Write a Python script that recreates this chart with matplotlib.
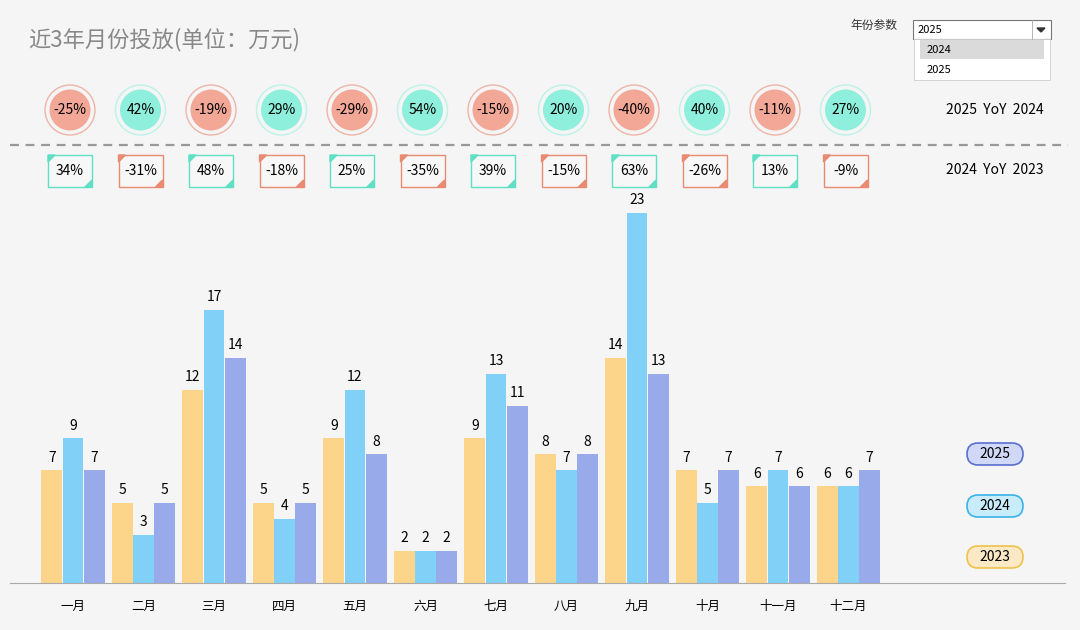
import matplotlib.pyplot as plt
from matplotlib.patches import Circle, Rectangle, Polygon, FancyBboxPatch
import numpy as np

plt.rcParams['font.family'] = ['Noto Sans CJK SC', 'DejaVu Sans']

months = ['一月', '二月', '三月', '四月', '五月', '六月', '七月', '八月', '九月', '十月', '十一月', '十二月']
v2023 = [7, 5, 12, 5, 9, 2, 9, 8, 14, 7, 6, 6]
v2024 = [9, 3, 17, 4, 12, 2, 13, 7, 23, 5, 7, 6]
v2025 = [7, 5, 14, 5, 8, 2, 11, 8, 13, 7, 6, 7]
yoy_25_24 = [-25, 42, -19, 29, -29, 54, -15, 20, -40, 40, -11, 27]
yoy_24_23 = [34, -31, 48, -18, 25, -35, 39, -15, 63, -26, 13, -9]

c23, c24, c25 = '#fdd58a', '#80d0f8', '#98aaea'
red, teal = '#f2a797', '#8ef0dc'
red_e, teal_e = '#e98a72', '#5fe0c4'
bg = '#f5f5f5'

W, H = 1080, 630
fig = plt.figure(figsize=(W / 100, H / 100), dpi=100, facecolor=bg)

# bar axes in pixel placement
left, right, base, top = 10, 1065, 583, 190
ax = fig.add_axes([left / W, (H - base) / H, (right - left) / W, (base - top) / H])
ax.set_facecolor('none')
step = 70.5
ax.set_xlim(-(73 - left) / step, (right - 73) / step)
ax.set_ylim(0, (base - top) / (370 / 23))
x = np.arange(len(months))
bw = 0.3
for off, vals, col in [(-bw, v2023, c23), (0, v2024, c24), (bw, v2025, c25)]:
    bars = ax.bar(x + off, vals, width=bw * 0.98, color=col)
    for b, v in zip(bars, vals):
        ax.text(b.get_x() + b.get_width() / 2, v + 0.35, str(v), ha='center', va='bottom', fontsize=10)
ax.set_xticks(x)
ax.set_xticklabels(months, fontsize=9)
ax.tick_params(length=0, pad=12)
ax.set_yticks([])
for s in ['top', 'right', 'left']:
    ax.spines[s].set_visible(False)
ax.spines['bottom'].set_color('#aaaaaa')

# overlay in pixel coords
ov = fig.add_axes([0, 0, 1, 1])
ov.set_xlim(0, W)
ov.set_ylim(H, 0)
ov.axis('off')
ov.set_facecolor('none')

ov.text(28, 40, '近3年月份投放(单位：万元)', fontsize=16, color='#888888', va='center')
ov.text(850, 25, '年份参数', fontsize=8.5, color='#333333', va='center')
ov.add_patch(Rectangle((913, 20), 138, 19, facecolor='white', edgecolor='#777777', lw=0.8))
ov.text(918, 30, '2025', fontsize=8, va='center')
ov.plot([1032, 1032], [20, 39], color='#aaaaaa', lw=0.6)
ov.add_patch(Polygon([(1037, 28), (1045, 28), (1041, 32)], color='#333333'))
ov.add_patch(Rectangle((914, 39), 136, 41, facecolor='white', edgecolor='#cccccc', lw=0.6))
ov.add_patch(Rectangle((920, 40), 124, 19, facecolor='#dadada', edgecolor='none'))
ov.text(927, 50, '2024', fontsize=8, va='center')
ov.text(927, 70, '2025', fontsize=8, va='center')

ov.plot([10, 1068], [145, 145], ls=(0, (4, 3)), color='#999999', lw=1.6)

for i in range(12):
    cx = 70 + i * step
    v = yoy_25_24[i]
    fc, ec = (teal, '#bdf2e6') if v >= 0 else (red, '#eeb5a8')
    ov.add_patch(Circle((cx, 110), 25, facecolor='none', edgecolor=ec, lw=1))
    ov.add_patch(Circle((cx, 110), 20.5, facecolor=fc, edgecolor='none'))
    ov.text(cx, 110, f'{v}%', ha='center', va='center', fontsize=10)

    v = yoy_24_23[i]
    bx = 70 + i * step
    col = teal_e if v >= 0 else red_e
    x0, y0, w, h = bx - 22, 155, 44, 32
    ov.add_patch(Rectangle((x0, y0), w, h, facecolor='#f7f7f7', edgecolor=col, lw=1))
    ov.add_patch(Polygon([(x0, y0), (x0 + 7, y0), (x0, y0 + 7)], color=col))
    ov.add_patch(Polygon([(x0 + w, y0 + h), (x0 + w - 7, y0 + h), (x0 + w, y0 + h - 7)], color=col))
    ov.text(bx, 171, f'{v}%', ha='center', va='center', fontsize=10)

ov.text(995, 110, '2025  YoY  2024', ha='center', va='center', fontsize=10)
ov.text(995, 170, '2024  YoY  2023', ha='center', va='center', fontsize=10)

for yy, lab, fc, ec in [(454, '2025', '#cfd8f6', '#5a6fd0'), (506, '2024', '#c9ecfb', '#3ab2ea'),
                        (557, '2023', '#fbe9c6', '#efc24a')]:
    ov.add_patch(FancyBboxPatch((967, yy - 11), 56, 22, boxstyle='round,pad=0,rounding_size=11',
                                facecolor=fc, edgecolor=ec, lw=1.2))
    ov.text(995, yy, lab, ha='center', va='center', fontsize=10)

fig.savefig('out.png', dpi=100, facecolor=bg)
